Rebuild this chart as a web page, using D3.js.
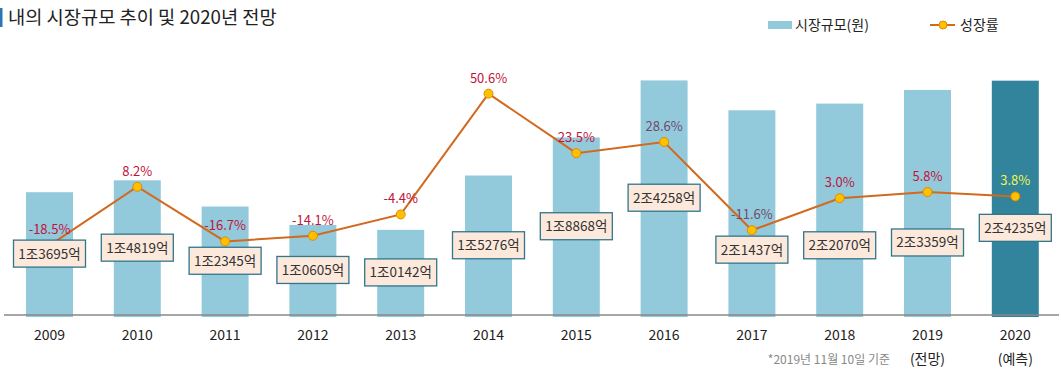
<!DOCTYPE html>
<html><head><meta charset="utf-8">
<script src="https://cdn.jsdelivr.net/npm/d3@7"></script>
<style>
body{margin:0;background:#fff;}
text{font-family:"Noto Sans CJK KR","Noto Sans",sans-serif;}
</style></head>
<body><svg id="c" width="1061" height="380"></svg>
<script>
// ---- data ----
const years = ["2009","2010","2011","2012","2013","2014","2015","2016","2017","2018","2019","2020"];
const subLabels = ["","","","","","","","","","","(전망)","(예측)"];
const marketSize = [13695,14819,12345,10605,10142,15276,18868,24258,21437,22070,23359,24235]; // 억원
const growthRate = [-18.5,8.2,-16.7,-14.1,-4.4,50.6,23.5,28.6,-11.6,3.0,5.8,3.8];
const title = "내의 시장규모 추이 및 2020년 전망";
const legendBar = "시장규모(원)";
const legendLine = "성장률";
const footnote = "*2019년 11월 10일 기준";

// ---- layout ----
const svg = d3.select("#c");
const baseY = 315;
const x = d3.scaleBand().domain(years).range([5.6,1059.2]).paddingInner(0.465).paddingOuter(0.2325);
const yBar = d3.scaleLinear().domain([2000,26000]).range([316,62]);
const yLine = d3.scaleLinear().domain([-50,60]).range([314.6,73]);
const cx = d => x(d) + x.bandwidth()/2;
const labelShift = {"2017":37,"2018":36,"2019":40,"2020":30};

// title
svg.append("rect").attr("x",0).attr("y",8).attr("width",2.5).attr("height",19).attr("fill","#2e75b6");
svg.append("text").attr("x",8).attr("y",24).attr("font-size",18.7).attr("fill","#222").text(title);

// legend
svg.append("rect").attr("x",768).attr("y",21).attr("width",24).attr("height",8).attr("fill","#92c9db");
svg.append("text").attr("x",795).attr("y",30).attr("font-size",14).attr("fill","#222").text(legendBar);
svg.append("line").attr("x1",930).attr("x2",955).attr("y1",25).attr("y2",25).attr("stroke","#d2691e").attr("stroke-width",2);
svg.append("circle").attr("cx",943).attr("cy",25).attr("r",4).attr("fill","#ffc000").attr("stroke","#e08a00");
svg.append("text").attr("x",960).attr("y",30).attr("font-size",14).attr("fill","#222").text(legendLine);

// bars
svg.append("g").selectAll("rect").data(years).join("rect")
  .attr("x", d => x(d)).attr("width", x.bandwidth())
  .attr("y", (d,i) => yBar(marketSize[i]))
  .attr("height", (d,i) => 317 - yBar(marketSize[i]))
  .attr("fill", (d,i) => i === years.length-1 ? "#31849b" : "#92c9db");

// axis line
svg.append("line").attr("x1",4).attr("x2",1059).attr("y1",baseY).attr("y2",baseY)
  .attr("stroke","#888").attr("stroke-width",1.5);

// x labels
const xl = svg.append("g");
xl.selectAll("text.yr").data(years).join("text").attr("class","yr")
  .attr("x", cx).attr("y",340).attr("text-anchor","middle").attr("font-size",14).attr("fill","#222").text(d=>d);
xl.selectAll("text.sub").data(years).join("text").attr("class","sub")
  .attr("x", cx).attr("y",364).attr("text-anchor","middle").attr("font-size",14).attr("fill","#222")
  .text((d,i)=>subLabels[i]);

svg.append("text").attr("x",890).attr("y",364).attr("text-anchor","end").attr("font-size",12).attr("fill","#888").text(footnote);

// line
const line = d3.line().x((d,i)=>cx(years[i])).y(d=>yLine(d));
svg.append("path").datum(growthRate).attr("d",line).attr("fill","none").attr("stroke","#d2691e").attr("stroke-width",2);
svg.append("g").selectAll("circle").data(growthRate).join("circle")
  .attr("cx",(d,i)=>cx(years[i])).attr("cy",d=>yLine(d)).attr("r",4.5)
  .attr("fill","#ffc000").attr("stroke","#e08a00").attr("stroke-width",1);

// growth labels
const gColor = i => i === 11 ? "#eef550" : (i === 7 || i === 8) ? "#6f4a6c" : "#c0143c";
svg.append("g").selectAll("text").data(growthRate).join("text")
  .attr("x",(d,i)=>cx(years[i])).attr("y",d=>yLine(d)-11)
  .attr("text-anchor","middle").attr("font-size",13).attr("fill",(d,i)=>gColor(i))
  .text(d=>d.toFixed(1)+"%");

// value label boxes
const fmt = v => Math.floor(v/10000) + "조" + String(v%10000).padStart(4,"0") + "억";
const lb = svg.append("g").selectAll("g").data(years).join("g")
  .attr("transform",(d,i)=>{
    const cy = (yBar(marketSize[i]) + baseY)/2 + (labelShift[d]||0);
    return `translate(${cx(d)},${cy})`;
  });
lb.append("rect").attr("x",-36).attr("y",-13.5).attr("width",72).attr("height",27)
  .attr("fill","#fce9dc").attr("stroke","#31768a").attr("stroke-width",1.3);
lb.append("text").attr("text-anchor","middle").attr("y",5).attr("font-size",13.5).attr("fill","#333")
  .text((d,i)=>fmt(marketSize[i]));
</script></body></html>
